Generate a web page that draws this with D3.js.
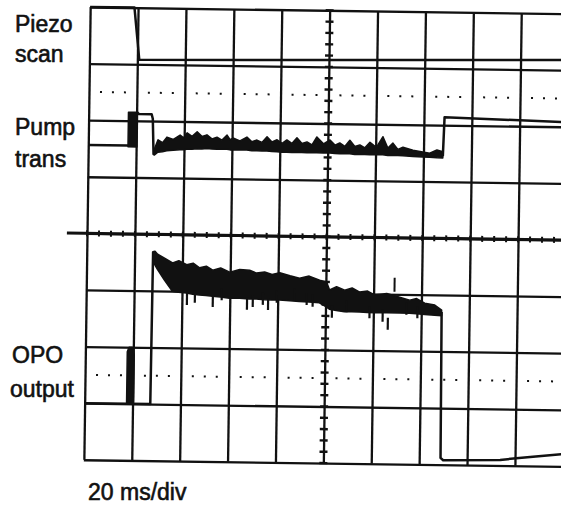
<!DOCTYPE html>
<html>
<head>
<meta charset="utf-8">
<script src="https://cdn.jsdelivr.net/npm/d3@7"></script>
<style>
  body { margin: 0; background: #fff; }
  text { font-family: "Liberation Sans", Arial, sans-serif; fill: #111; stroke: #111; stroke-width: 0.6px; }
</style>
</head>
<body>
<svg id="scope" width="561" height="506"></svg>
<script>
/*** DATA (time in ms, level in screen divisions from centre) ***/
const timeGrid = [0, 20, 40, 60, 80, 100, 120, 140, 160, 180, 200];
const divGrid = [-4, -3, -2, -1, 0, 1, 2, 3, 4];
const dottedLevels = [2.5, -2.5];

const labels = [["Piezo", "scan"], ["Pump", "trans"], ["OPO", "output"]];
const timebaseLabel = "20 ms/div";

// piezo scan voltage
const piezoTrace = [[0, 4], [18.5, 4], [20.8, 3.08], [80, 3.11], [200, 3.18]];

// pump transmission
const pumpPre = [[0, 1.56], [16.6, 1.56]];
const pumpBurst = [[16.6, 1.54, 2.15], [20.3, 1.54, 2.15]];
const pumpHat = [[20.3, 2.15], [21.0, 2.12], [26.3, 2.12], [26.8, 2.04], [27.3, 1.42], [27.8, 1.45]];
const pumpBand = [
  [27.6, 1.50, 1.40], [29.1, 1.67, 1.45], [31.0, 1.62, 1.46], [32.8, 1.72, 1.48],
  [35.5, 1.68, 1.49], [38.3, 1.76, 1.50], [39.8, 1.71, 1.50], [41.2, 1.80, 1.51],
  [43.3, 1.74, 1.51], [45.4, 1.82, 1.52], [47.5, 1.74, 1.52], [49.5, 1.77, 1.53],
  [51.6, 1.70, 1.52], [53.7, 1.73, 1.52], [55.8, 1.68, 1.52], [57.9, 1.77, 1.52],
  [59.2, 1.69, 1.51], [60.4, 1.72, 1.51], [63.3, 1.67, 1.51], [66.2, 1.74, 1.51],
  [68.3, 1.66, 1.50], [70.4, 1.69, 1.50], [72.5, 1.65, 1.50], [74.6, 1.75, 1.50],
  [76.7, 1.66, 1.49], [78.8, 1.70, 1.49], [80.9, 1.64, 1.48], [82.9, 1.70, 1.48],
  [85.0, 1.64, 1.48], [87.1, 1.74, 1.48], [89.2, 1.64, 1.48], [91.3, 1.67, 1.48],
  [93.4, 1.62, 1.48], [95.4, 1.76, 1.48], [98.2, 1.64, 1.48], [100.9, 1.71, 1.48],
  [103.0, 1.62, 1.47], [105.0, 1.66, 1.47], [107.1, 1.60, 1.47], [109.2, 1.71, 1.47],
  [111.3, 1.60, 1.46], [113.4, 1.63, 1.46], [115.5, 1.58, 1.46], [117.6, 1.68, 1.46],
  [120.3, 1.59, 1.46], [123.0, 1.78, 1.46], [125.1, 1.58, 1.45], [127.2, 1.67, 1.45],
  [129.3, 1.56, 1.45], [131.4, 1.60, 1.45], [135.6, 1.55, 1.44], [139.7, 1.52, 1.43],
  [142.6, 1.50, 1.43], [145.6, 1.56, 1.42], [148.1, 1.53, 1.42]
];
const pumpPost = [[148.1, 1.45], [148.6, 2.14], [200, 2.08]];

// OPO output
const opoPre = [[0, -3], [27.4, -3], [27.7, -0.31]];
const opoBurst = [[17.5, -3, -2.08], [18.2, -3, -2.0], [19.6, -3, -2.0], [20.4, -3, -2.12]];
const opoBand = [
  [27.6, -0.31, -0.40], [28.5, -0.30, -0.54], [29.6, -0.35, -0.62], [32.5, -0.42, -0.80],
  [35.9, -0.50, -1.00], [38.5, -0.46, -1.02], [41.8, -0.53, -1.03], [44.5, -0.50, -1.05],
  [47.2, -0.58, -1.06], [50.0, -0.55, -1.07], [52.7, -0.62, -1.08], [56.0, -0.58, -1.09],
  [59.8, -0.65, -1.11], [64.0, -0.60, -1.11], [68.1, -0.61, -1.12], [71.0, -0.66, -1.12],
  [74.4, -0.64, -1.13], [77.5, -0.68, -1.13], [80.7, -0.65, -1.13], [85.0, -0.70, -1.14],
  [89.0, -0.74, -1.15], [93.0, -0.70, -1.16], [97.4, -0.77, -1.17], [100.3, -0.80, -1.24],
  [101.6, -0.94, -1.28], [104.5, -0.88, -1.30], [107.9, -0.94, -1.32], [111.0, -0.90, -1.32],
  [114.2, -0.97, -1.32], [117.5, -0.95, -1.33], [120.5, -1.02, -1.33], [125.5, -0.99, -1.33],
  [130.9, -1.05, -1.33], [135.1, -1.10, -1.33], [138.0, -1.07, -1.34], [141.4, -1.15, -1.35],
  [145.6, -1.18, -1.36], [148.5, -1.27, -1.37]
];
const opoDownSpikes = [
  [42.1, -1.24], [45.4, -1.20], [52.9, -1.27], [56.6, -1.15], [67.2, -1.31], [69.6, -1.26],
  [73.8, -1.22], [76.0, -1.31], [79.6, -1.18], [87.1, -1.13], [92.1, -1.21], [94.6, -1.24],
  [102.7, -1.43], [108.8, -1.33], [118.4, -1.43], [123.9, -1.49], [126.1, -1.63],
  [133.8, -1.36], [138.4, -1.42]
];
const opoUpSpikes = [[128.7, -0.71]];
const opoPost = [[148.5, -1.30], [148.9, -3.88], [150, -3.92], [173.8, -3.90], [186.3, -3.84], [200, -3.78]];

/*** LAYOUT ***/
const TILT = 0.8; // the photographed screen is slightly rotated

const svg = d3.select("#scope");

const x = d3.scaleLinear().domain([0, 200]).range([87, 566]);
const y = d3.scaleLinear().domain([-4, 4]).range([463.1, 10.3]);

const plot = svg.append("g")
  .attr("transform", `rotate(${TILT},${x(100)},${y(0)})`);

const ink = "#111";

// graticule
plot.append("g")
  .attr("transform", `translate(0,${y(-4)})`)
  .call(d3.axisBottom(x).tickValues(timeGrid).tickSize(-(y(-4) - y(4))).tickFormat(""))
  .call(g => g.select(".domain").remove())
  .call(g => g.selectAll("line").attr("stroke", ink).attr("stroke-width", 2.3));

plot.append("g")
  .attr("transform", `translate(${x(0)},0)`)
  .call(d3.axisLeft(y).tickValues(divGrid).tickSize(-(x(200) - x(0))).tickFormat(""))
  .call(g => g.select(".domain").remove())
  .call(g => g.selectAll("line").attr("stroke", ink).attr("stroke-width", 2.3));

// centre axis, longer and heavier
plot.append("line")
  .attr("x1", x(-8.4)).attr("x2", x(200))
  .attr("y1", y(0)).attr("y2", y(0))
  .attr("stroke", ink).attr("stroke-width", 3);

// minor ticks on the centre axes
const minorT = x.ticks(50);
const minorD = y.ticks(40);
plot.append("g").selectAll("line")
  .data(minorT)
  .join("line")
  .attr("x1", d => x(d)).attr("x2", d => x(d))
  .attr("y1", y(0) - 3).attr("y2", y(0) + 3)
  .attr("stroke", ink).attr("stroke-width", 2);

plot.append("g").selectAll("line")
  .data(minorD)
  .join("line")
  .attr("x1", x(100) - 4).attr("x2", x(100) + 4)
  .attr("y1", d => y(d)).attr("y2", d => y(d))
  .attr("stroke", ink).attr("stroke-width", 2.4);

// dotted reference levels
const dotT = minorT.filter(t => t % 20 !== 0);
dottedLevels.forEach(lv => {
  plot.append("g").selectAll("rect")
    .data(dotT)
    .join("rect")
    .attr("x", d => x(d) - 1)
    .attr("y", y(lv) - 1)
    .attr("width", 2)
    .attr("height", 2)
    .attr("fill", ink);
});

/*** TRACES ***/
const line = d3.line().x(d => x(d[0])).y(d => y(d[1]));
const band = d3.area().x(d => x(d[0])).y0(d => y(d[2])).y1(d => y(d[1]));

function drawLine(data, w) {
  plot.append("path")
    .datum(data)
    .attr("d", line)
    .attr("fill", "none")
    .attr("stroke", ink)
    .attr("stroke-width", w)
    .attr("stroke-linejoin", "round");
}

function drawBand(data) {
  plot.append("path")
    .datum(data)
    .attr("d", band)
    .attr("fill", ink)
    .attr("stroke", ink)
    .attr("stroke-width", 1.5)
    .attr("stroke-linejoin", "round");
}

drawLine(piezoTrace, 2.5);

drawLine(pumpPre, 2.5);
drawBand(pumpBurst);
drawLine(pumpHat, 2.5);
drawBand(pumpBand);
drawLine(pumpPost, 2.5);

drawLine(opoPre, 2.5);
drawBand(opoBurst);
drawBand(opoBand);
plot.append("g").selectAll("line")
  .data(opoDownSpikes)
  .join("line")
  .attr("x1", d => x(d[0])).attr("x2", d => x(d[0]))
  .attr("y1", d => y(d[1]) - 12).attr("y2", d => y(d[1]))
  .attr("stroke", ink).attr("stroke-width", 2.2);
plot.append("g").selectAll("line")
  .data(opoUpSpikes)
  .join("line")
  .attr("x1", d => x(d[0])).attr("x2", d => x(d[0]))
  .attr("y1", d => y(d[1])).attr("y2", d => y(d[1]) + 14)
  .attr("stroke", ink).attr("stroke-width", 2);
drawLine(opoPost, 2.5);

/*** LABELS ***/
const labelBase = [[32, 62], [135, 167], [363, 397]];
const labelX = [[15, 15], [15, 15], [12, 10]];

labels.forEach((pair, i) => {
  pair.forEach((txt, j) => {
    svg.append("text")
      .attr("x", labelX[i][j])
      .attr("y", labelBase[i][j])
      .attr("font-size", "23px")
      .text(txt);
  });
});

svg.append("text")
  .attr("x", 88)
  .attr("y", 500)
  .attr("font-size", "23px")
  .text(timebaseLabel);
</script>
</body>
</html>
